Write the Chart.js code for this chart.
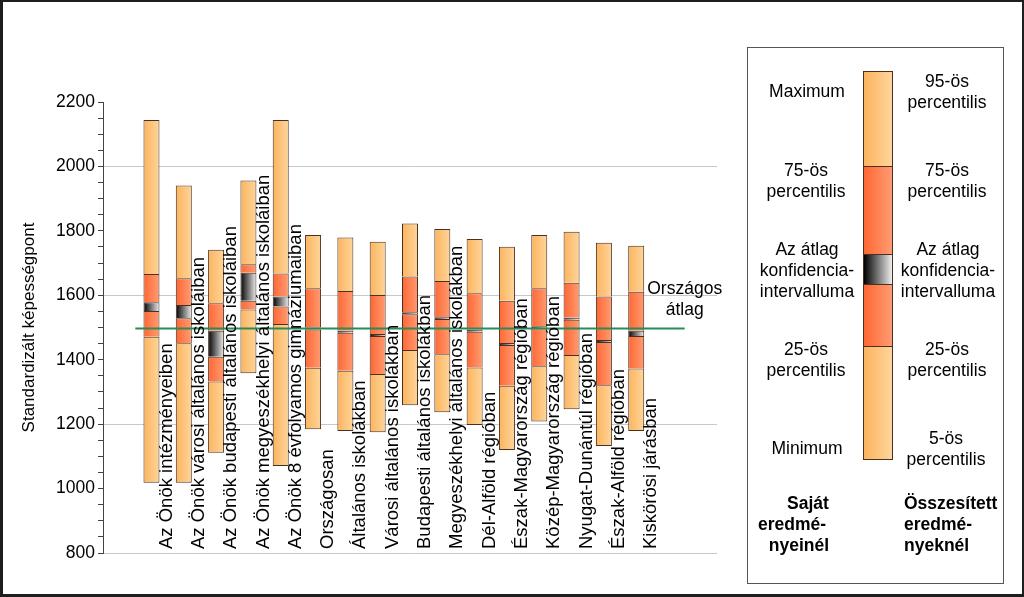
<!DOCTYPE html>
<html>
<head>
<meta charset="utf-8">
<script src="https://cdn.jsdelivr.net/npm/chart.js@4.4.1/dist/chart.umd.min.js"></script>
<style>
html,body{margin:0;padding:0;background:#fff;}
#wrap{position:relative;width:1024px;height:597px;overflow:hidden;font-family:"Liberation Sans",Arial,sans-serif;color:#000;}
#c{position:absolute;left:0;top:0;}
#frame{position:absolute;left:0;top:0;width:1024px;height:597px;box-sizing:border-box;border:2px solid #1e1e1e;border-left-width:3px;border-bottom-width:3px;pointer-events:none;}
#legend{position:absolute;left:747px;top:47px;width:257px;height:537px;box-sizing:border-box;border:1px solid #555;}
.lt{position:absolute;font-size:17.5px;line-height:21px;white-space:nowrap;}
.ctr{text-align:center;width:160px;}
.b{font-weight:bold;}
#lbar{position:absolute;left:863px;top:71px;width:30px;height:389px;box-sizing:border-box;border:1px solid #4a3020;}
.seg{position:absolute;left:0;width:28px;box-sizing:border-box;}
.light{background:linear-gradient(to right,#fcb45d,#fed59b);}
.red{background:linear-gradient(to right,#ff6633,#ff9c72);}
.ci{background:linear-gradient(to right,#000,#eeeeee);}
</style>
</head>
<body>
<div id="wrap">
<canvas id="c" width="1024" height="597"></canvas>
<div id="legend"></div>
<div id="lbar">
  <div class="seg light" style="top:0;height:95px;border-bottom:1px solid #4a3020;"></div>
  <div class="seg red" style="top:95px;height:87px;"></div>
  <div class="seg ci" style="top:182px;height:31px;border-top:1px solid #4a3020;border-bottom:1px solid #4a3020;"></div>
  <div class="seg red" style="top:213px;height:61px;"></div>
  <div class="seg light" style="top:274px;height:113px;border-top:1px solid #4a3020;"></div>
</div>
<div class="lt ctr" style="left:727px;top:81px;">Maximum</div>
<div class="lt ctr" style="left:726px;top:160px;">75-ös<br>percentilis</div>
<div class="lt ctr" style="left:727px;top:239px;">Az átlag<br>konfidencia-<br>intervalluma</div>
<div class="lt ctr" style="left:726px;top:339px;">25-ös<br>percentilis</div>
<div class="lt ctr" style="left:727px;top:438px;">Minimum</div>
<div class="lt ctr" style="left:867px;top:71px;">95-ös<br>percentilis</div>
<div class="lt ctr" style="left:867px;top:160px;">75-ös<br>percentilis</div>
<div class="lt ctr" style="left:868px;top:239px;">Az átlag<br>konfidencia-<br>intervalluma</div>
<div class="lt ctr" style="left:867px;top:339px;">25-ös<br>percentilis</div>
<div class="lt ctr" style="left:866px;top:428px;">5-ös<br>percentilis</div>
<div class="lt ctr b" style="left:728px;top:493px;">Saját</div>
<div class="lt ctr b" style="left:712px;top:514px;">eredmé-</div>
<div class="lt ctr b" style="left:719px;top:535px;">nyeinél</div>
<div class="lt b" style="left:904px;top:493px;">Összesített<br>eredmé-<br>nyeknél</div>
<div id="frame"></div>
</div>
<script>
const categories = [
  'Az Önök intézményeiben',
  'Az Önök városi általános iskoláiban',
  'Az Önök budapesti általános iskoláiban',
  'Az Önök megyeszékhelyi általános iskoláiban',
  'Az Önök 8 évfolyamos gimnáziumaiban',
  'Országosan',
  'Általános iskolákban',
  'Városi általános iskolákban',
  'Budapesti általános iskolákban',
  'Megyeszékhelyi általános iskolákban',
  'Dél-Alföld régióban',
  'Észak-Magyarország régióban',
  'Közép-Magyarország régióban',
  'Nyugat-Dunántúl régióban',
  'Észak-Alföld régióban',
  'Kiskörösi járásban'
];
const lowValues    = [1018,1018,1111,1358,1070,1184,1179,1175,1259,1237,1197,1120,1208,1246,1132,1179];
const q25Values    = [1471,1451,1332,1556,1511,1375,1366,1356,1430,1417,1376,1319,1380,1415,1321,1373];
const ciLowValues  = [1551,1529,1409,1583,1565,1494,1484,1474,1541,1526,1487,1446,1498,1524,1455,1474];
const ciHighValues = [1578,1570,1490,1670,1596,1500,1490,1480,1547,1532,1493,1452,1504,1530,1461,1490];
const q75Values    = [1666,1653,1575,1696,1668,1622,1613,1601,1658,1644,1606,1583,1622,1639,1596,1611];
const highValues   = [2144,1941,1741,1956,2144,1787,1779,1766,1823,1806,1775,1751,1787,1797,1763,1754];
const nationalAverage = 1497;
const averageLineSpan = [-0.5, 16.5];
const averageLabel = ['Országos', 'átlag'];
const yAxisTitle = 'Standardizált képességpont';

const FONT = '"Liberation Sans", Arial, sans-serif';
const BAR_W = 16;
const BORDER = '#4a3020';

function grad(c0, c1) {
  return function (ctx) {
    const chart = ctx.chart;
    const xs = chart.scales && chart.scales.x;
    if (!xs || ctx.type !== 'data' || !chart.chartArea) return c0;
    const xc = xs.getPixelForValue(ctx.dataIndex);
    const g = chart.ctx.createLinearGradient(xc - BAR_W / 2, 0, xc + BAR_W / 2, 0);
    g.addColorStop(0, c0);
    g.addColorStop(1, c1);
    return g;
  };
}
function seg(lo, hi) {
  return categories.map((c, i) => ({ x: i, y: [lo[i], hi[i]] }));
}
function barDs(data, bg, skipped) {
  return {
    type: 'bar', data, backgroundColor: bg, borderColor: BORDER, borderWidth: 1,
    borderSkipped: skipped, grouped: false, barThickness: BAR_W, inflateAmount: 0, order: 1
  };
}
const light = grad('#fcb45d', '#fed59b');
const red = grad('#ff6633', '#ff9c72');
const ci = grad('#000000', '#eeeeee');

const overlay = {
  id: 'overlay',
  afterDatasetsDraw(chart) {
    const { ctx, scales: { x, y } } = chart;
    ctx.save();
    ctx.font = '18.5px ' + FONT;
    ctx.fillStyle = '#000';
    ctx.textBaseline = 'middle';
    ctx.textAlign = 'left';
    categories.forEach((lab, i) => {
      const px = x.getPixelForValue(i) + 15;
      ctx.save();
      ctx.translate(px, y.bottom - 4);
      ctx.rotate(-Math.PI / 2);
      ctx.fillText(lab, 0, 0);
      ctx.restore();
    });
    ctx.font = '17.5px ' + FONT;
    ctx.textAlign = 'center';
    const ax = x.getPixelForValue(averageLineSpan[1]);
    const ay = y.getPixelForValue(nationalAverage);
    ctx.fillText(averageLabel[0], ax, ay - 39);
    ctx.fillText(averageLabel[1], ax, ay - 18);
    ctx.restore();
  }
};

new Chart(document.getElementById('c'), {
  type: 'bar',
  data: {
    datasets: [
      {
        type: 'line',
        data: averageLineSpan.map(v => ({ x: v, y: nationalAverage })),
        borderColor: '#2b8a57', borderWidth: 2, pointRadius: 0, fill: false, order: 0
      },
      barDs(seg(lowValues, q25Values), light, false),
      barDs(seg(q25Values, ciLowValues), red, 'start'),
      barDs(seg(ciLowValues, ciHighValues), ci, 'start'),
      barDs(seg(ciHighValues, q75Values), red, 'start'),
      barDs(seg(q75Values, highValues), light, 'start')
    ]
  },
  options: {
    responsive: false,
    animation: false,
    devicePixelRatio: 1,
    layout: { padding: { left: 0, top: 102, right: 307, bottom: 44 } },
    plugins: { legend: { display: false }, tooltip: { enabled: false } },
    scales: {
      x: { type: 'linear', min: -1.5, max: 17.5, offset: false, display: false },
      y: {
        type: 'linear', min: 800, max: 2200,
        afterFit: s => { s.width = 103; },
        ticks: {
          stepSize: 50, autoSkip: false, color: '#000', padding: 3,
          font: { family: FONT, size: 17.5 },
          callback: v => (v % 200 === 0 ? v : '')
        },
        grid: {
          color: c => ([800, 1200, 1600, 2000].includes(c.tick && c.tick.value) ? '#c8c8c8' : 'rgba(0,0,0,0)'),
          tickColor: '#444', tickLength: 5, lineWidth: 1
        },
        border: { display: true, color: '#444', width: 1 },
        title: {
          display: true, text: yAxisTitle, color: '#000',
          font: { family: FONT, size: 17 }, padding: { top: 19, bottom: 0 }
        }
      }
    }
  },
  plugins: [overlay]
});
</script>
</body>
</html>
